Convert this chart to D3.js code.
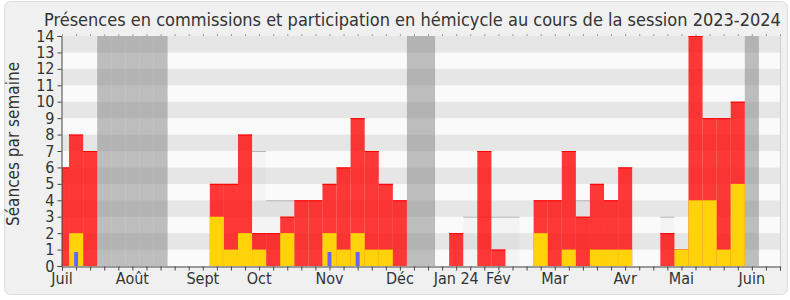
<!DOCTYPE html>
<meta charset="utf-8">
<script src="https://d3js.org/d3.v7.min.js"></script>
<style>
  body { margin: 0; background: #fff; }
  text { font-family: "DejaVu Sans Condensed", "DejaVu Sans", sans-serif; fill: #333; }
</style>
<div id="my_dataviz"></div>
<script>

// weekly values, week 0 = first week of July 2023
var presences   = [6,8,7,0,0,0,0,0,0,0,0,5,5,8,2,2,3,4,4,5,6,9,7,5,4,0,0,0,2,0,7,1,0,0,4,4,7,3,5,4,6,0,0,2,1,14,9,9,10,0,0,0];
var hemicycle   = [0,2,0,0,0,0,0,0,0,0,0,3,1,2,1,0,2,0,0,2,1,2,1,1,0,0,0,0,0,0,0,0,0,0,2,0,1,0,1,1,1,0,0,0,1,4,4,1,5,0,0,0];
var questions   = [0,0.85,0,0,0,0,0,0,0,0,0,0,0,0,0,0,0,0,0,0.85,0,0.85,0,0,0,0,0,0,0,0,0,0,0,0,0,0,0,0,0,0,0,0,0,0,0,0,0,0,0,0,0,0];
var mediane     = [0,0,0,0,0,0,0,0,0,0,0,0,0,0,7,4,4,0,0,0,0,0,0,0,0,0,0,0,0,3,3,3,3,0,0,0,0,4,0,0,0,0,0,3,0,0,0,0,0,0,0,0];
var vacances    = [3,4,5,6,7,25,26,49];
var monthLabels = ["Juil","Août","Sept","Oct","Nov","Déc","Jan 24","Fév","Mar","Avr","Mai","Juin"];
var monthWeeks  = [0,5,10,14,19,24,28,31,35,40,44,49];
var yTicks      = d3.range(0, 15);

var W = 790, H = 300;
var margin = {top: 36, right: 10, bottom: 34, left: 62};
var x0 = margin.left, x1 = W - margin.right, y0 = H - margin.bottom, y1 = margin.top;

var svg = d3.select("#my_dataviz").append("svg")
  .attr("width", W).attr("height", H);

// frame
svg.append("rect")
  .attr("x", 4.5).attr("y", 1.5).attr("width", 783).attr("height", 293)
  .attr("rx", 6).attr("fill", "#f0f0f0").attr("stroke", "#dcdcdc");

var x = d3.scaleLinear().domain([0, presences.length - 1]).range([x0, x1]);
var y = d3.scaleLinear().domain([0, 14]).range([y0, y1]);

svg.append("clipPath").attr("id", "clip")
  .append("rect").attr("x", x0).attr("y", y1).attr("width", x1 - x0).attr("height", y0 - y1);

var plot = svg.append("g").attr("clip-path", "url(#clip)");

// background stripes
plot.selectAll(".stripe").data(d3.range(14)).enter().append("rect")
  .attr("x", x0).attr("width", x1 - x0)
  .attr("y", function(k){ return y(k + 1); })
  .attr("height", function(k){ return y(k) - y(k + 1); })
  .attr("fill", function(k){ return k % 2 ? "#e6e6e6" : "#fafafa"; });

// holidays
plot.selectAll(".vac").data(vacances).enter().append("rect")
  .attr("x", function(d){ return x(d - 0.5); })
  .attr("width", function(d){ return x(d + 0.5) - x(d - 0.5); })
  .attr("y", y1).attr("height", y0 - y1)
  .attr("fill", "#808080").attr("fill-opacity", 0.5);

function bars(values, fill, opacity, widthFrac) {
  var g = plot.append("g");
  var data = values.map(function(v, i){ return {i: i, v: v}; }).filter(function(d){ return d.v > 0; });
  g.selectAll("rect").data(data).enter().append("rect")
    .attr("x", function(d){ return x(d.i - widthFrac / 2); })
    .attr("width", function(d){ return x(d.i + widthFrac / 2) - x(d.i - widthFrac / 2); })
    .attr("y", function(d){ return y(d.v); })
    .attr("height", function(d){ return y(0) - y(d.v); })
    .attr("fill", fill).attr("fill-opacity", opacity);
  return {g: g, data: data};
}

function topLines(b, color) {
  b.g.selectAll("line").data(b.data).enter().append("line")
    .attr("x1", function(d){ return x(d.i - 0.5); })
    .attr("x2", function(d){ return x(d.i + 0.5); })
    .attr("y1", function(d){ return y(d.v) + 0.5; })
    .attr("y2", function(d){ return y(d.v) + 0.5; })
    .attr("stroke", color).attr("stroke-width", 1);
}

// median of all deputies
topLines(bars(mediane, "#000", 0.025, 1), "#b4b4b4");

// presences
topLines(bars(presences, "#ff0000", 0.78, 1), "#ff0000");

// participation in hemicycle
bars(hemicycle, "#ffd20a", 1, 1);

// oral questions
bars(questions, "#6464ff", 1, 0.28);

// right border of plot
svg.append("line").attr("x1", x1 + 0.5).attr("x2", x1 + 0.5).attr("y1", y1).attr("y2", y0)
  .attr("stroke", "#d0d0d0");

// axes
var yAxis = svg.append("g").attr("transform", "translate(" + (x0 - 0.5) + ",0)")
  .call(d3.axisLeft(y).tickValues(yTicks).tickSize(4).tickPadding(3).tickFormat(d3.format("d")));
yAxis.selectAll("text").style("font-size", "16px");

svg.append("g").attr("transform", "translate(0," + (y0 + 0.5) + ")")
  .call(d3.axisBottom(x).tickValues(d3.range(presences.length)).tickSize(4).tickFormat(""));

svg.append("g").attr("transform", "translate(0," + (y1 - 0.5) + ")")
  .call(d3.axisTop(x).tickValues(d3.range(presences.length)).tickSize(1).tickFormat(""))
  .call(function(g){ g.select(".domain").remove(); });

svg.selectAll(".domain, .tick line").attr("stroke", "#444");

svg.append("g").selectAll("text").data(monthLabels).enter().append("text")
  .attr("x", function(d, i){ return x(monthWeeks[i]); })
  .attr("y", y0 + 18)
  .attr("text-anchor", "middle")
  .style("font-size", "16px")
  .text(function(d){ return d; });

// title
svg.append("text")
  .attr("x", 44).attr("y", 26)
  .style("font-size", "18px")
  .text("Présences en commissions et participation en hémicycle au cours de la session 2023-2024");

// y label
svg.append("text")
  .attr("transform", "translate(19," + 144 + ") rotate(-90)")
  .attr("text-anchor", "middle")
  .style("font-size", "17px")
  .text("Séances par semaine");

</script>
